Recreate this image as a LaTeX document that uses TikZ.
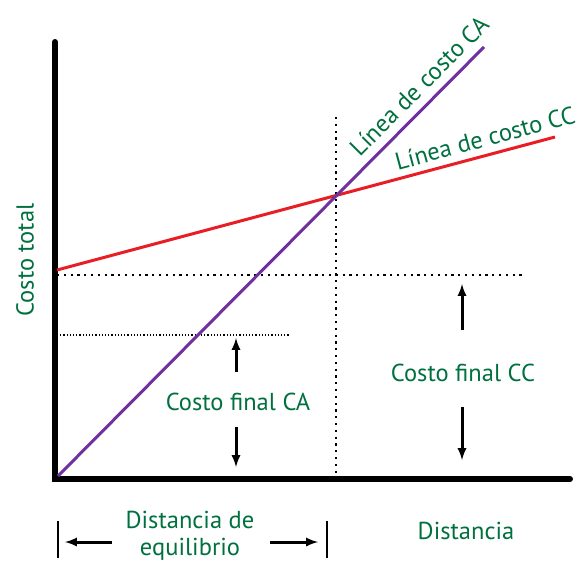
\documentclass[tikz,border=0pt]{standalone}
\usepackage{fontspec}
\setmainfont{PT Sans}
\usepackage{tikz}
\usetikzlibrary{arrows}

\definecolor{labelgreen}{RGB}{0,112,62}
\definecolor{ccred}{RGB}{232,30,36}
\definecolor{capurple}{RGB}{112,48,160}

\begin{document}
\begin{tikzpicture}[
            x=1pt, y=-1pt,
            axis/.style={line width=6pt, line cap=round}, % thick black axes
            guide/.style={line width=2.2pt, dash pattern=on 2.2pt off 4.6pt}, % dotted helper lines
            hint/.style={line width=3pt, -latex}, % black arrows
            tick/.style={line width=1.6pt},
            lbl/.style={text=labelgreen, font=\fontsize{24.5}{27}\selectfont, inner sep=0pt}
            ]
        \useasboundingbox (0,0) rectangle (583,566);

        % axes
        \coordinate (O) at (55,479);
        \coordinate (ytop) at (55,42);
        \coordinate (xend) at (570,479);
        \draw[axis] (ytop) -- (O) -- (xend);

        % cost lines
        \coordinate (ca0) at (58,476);
        \coordinate (ca1) at (484,47);
        \coordinate (cc0) at (57,270);
        \coordinate (cc1) at (555,137);

        % dotted guides
        \coordinate (vtop) at (336,117);
        \coordinate (vbot) at (336,479);
        \coordinate (hcc0) at (57,275);
        \coordinate (hcc1) at (523,275);
        \coordinate (hca0) at (57,335);
        \coordinate (hca1) at (290,335);
        \draw[guide] (vtop) -- (vbot);
        \draw[guide] (hcc0) -- (hcc1);
        \draw[line width=1.2pt, dash pattern=on 1.2pt off 2pt] (hca0) -- (hca1);

        \draw[line width=3pt, ccred] (cc0) -- (cc1);
        \draw[line width=3pt, capurple] (ca0) -- (ca1);

        % labels
        \node[lbl, rotate=90] (ytitle) at (25,260) {Costo total};
        \node[lbl, rotate=45.2] (catitle) at (419,86) {Línea de costo CA};
        \node[lbl, rotate=15] (cctitle) at (485,138) {Línea de costo CC};

        \node[lbl] (cafinal) at (238,402) {Costo final CA};
        \node[lbl] (ccfinal) at (463,373) {Costo final CC};

        % arrows towards the cost levels
        \coordinate (cau0) at (236,372);
        \coordinate (cau1) at (236,338);
        \coordinate (cad0) at (236,427);
        \coordinate (cad1) at (236,467);
        \coordinate (ccu0) at (462,330);
        \coordinate (ccu1) at (462,284);
        \coordinate (ccd0) at (462,407);
        \coordinate (ccd1) at (462,460);
        \draw[hint] (cau0) -- (cau1);
        \draw[hint] (cad0) -- (cad1);
        \draw[hint] (ccu0) -- (ccu1);
        \draw[hint] (ccd0) -- (ccd1);

        % bottom: equilibrium distance
        \node[lbl, align=center] (eqdist) at (190,536) {Distancia de\\equilibrio};
        \node[lbl] (dist) at (466,531) {Distancia};
        \coordinate (lb0) at (58,521);
        \coordinate (lb1) at (58,558);
        \coordinate (rb0) at (327,521);
        \coordinate (rb1) at (327,558);
        \coordinate (la0) at (112,542);
        \coordinate (la1) at (65,542);
        \coordinate (ra0) at (270,542);
        \coordinate (ra1) at (318,542);
        \draw[tick] (lb0) -- (lb1);
        \draw[tick] (rb0) -- (rb1);
        \draw[hint] (la0) -- (la1);
        \draw[hint] (ra0) -- (ra1);

\end{tikzpicture}
\end{document}
